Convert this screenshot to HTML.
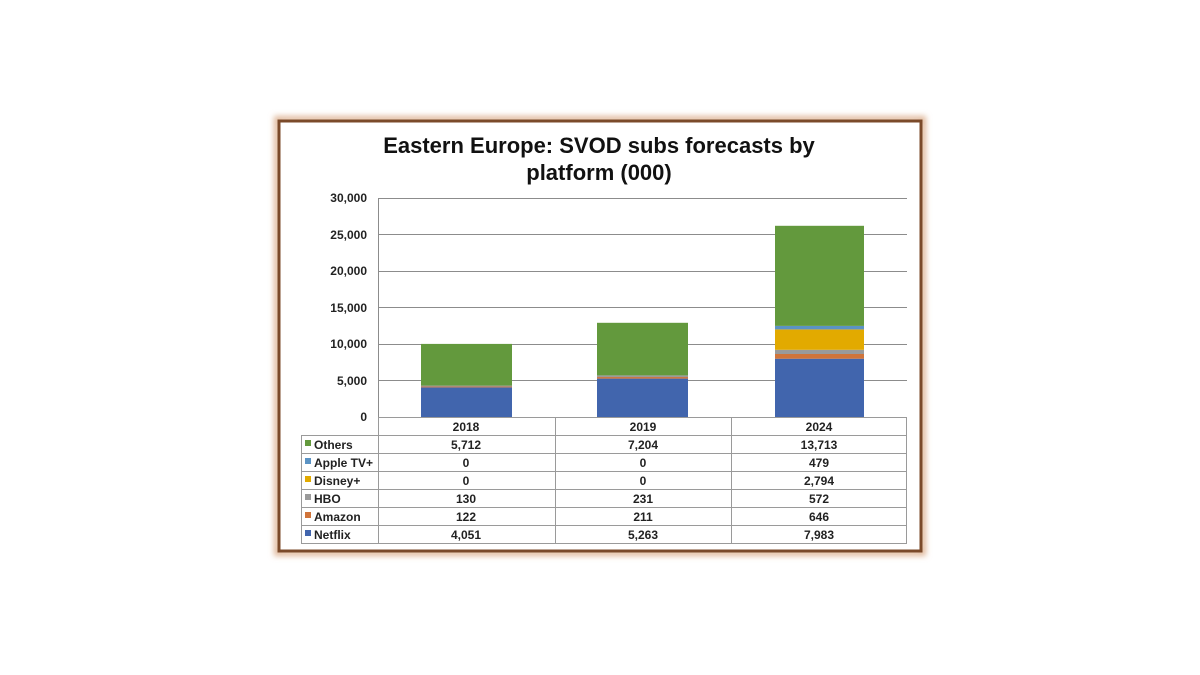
<!DOCTYPE html>
<html><head><meta charset="utf-8"><style>
html,body{margin:0;padding:0;background:#fff;width:1200px;height:675px;overflow:hidden}
svg{display:block}
text{font-family:"Liberation Sans",Arial,sans-serif}
</style></head><body>
<svg width="1200" height="675" viewBox="0 0 1200 675">
<defs><filter id="sh" x="-5%" y="-5%" width="110%" height="110%"><feGaussianBlur stdDeviation="3"/></filter></defs>
<rect x="277" y="119" width="646" height="434" fill="none" stroke="#e0b89a" stroke-width="6" filter="url(#sh)"/>
<rect x="279" y="121" width="642" height="430" fill="#fff" stroke="#7b4a2a" stroke-width="3"/>
<text x="599" y="153" font-size="22" font-weight="bold" text-anchor="middle" fill="#111">Eastern Europe: SVOD subs forecasts by</text>
<text x="599" y="180" font-size="22" font-weight="bold" text-anchor="middle" fill="#111">platform (000)</text>
<g stroke="#8c8c8c" stroke-width="1">
<line x1="378" y1="198.5" x2="907" y2="198.5"/><line x1="378" y1="234.5" x2="907" y2="234.5"/>
<line x1="378" y1="271.5" x2="907" y2="271.5"/><line x1="378" y1="307.5" x2="907" y2="307.5"/>
<line x1="378" y1="344.5" x2="907" y2="344.5"/><line x1="378" y1="380.5" x2="907" y2="380.5"/>
<line x1="378.5" y1="198" x2="378.5" y2="417"/>
</g>
<g font-size="12" font-weight="bold" fill="#222" text-anchor="end">
<text x="367" y="202">30,000</text><text x="367" y="239">25,000</text><text x="367" y="275">20,000</text>
<text x="367" y="312">15,000</text><text x="367" y="348">10,000</text><text x="367" y="385">5,000</text><text x="367" y="421">0</text>
</g>
<!-- 2018 -->
<rect x="421" y="387.4" width="91" height="29.6" fill="#4165ad"/>
<rect x="421" y="386.5" width="91" height="0.9" fill="#d0743a"/>
<rect x="421" y="385.6" width="91" height="1" fill="#9a9a9a"/>
<rect x="421" y="343.9" width="91" height="41.7" fill="#63993d"/>
<!-- 2019 -->
<rect x="597" y="378.6" width="91" height="38.4" fill="#4165ad"/>
<rect x="597" y="377.0" width="91" height="1.6" fill="#d0743a"/>
<rect x="597" y="375.4" width="91" height="1.7" fill="#9a9a9a"/>
<rect x="597" y="322.8" width="91" height="52.6" fill="#63993d"/>
<!-- 2024 -->
<rect x="775" y="358.7" width="89" height="58.3" fill="#4165ad"/>
<rect x="775" y="354.0" width="89" height="4.7" fill="#d0743a"/>
<rect x="775" y="349.8" width="89" height="4.2" fill="#9a9a9a"/>
<rect x="775" y="329.4" width="89" height="20.4" fill="#e2aa00"/>
<rect x="775" y="325.9" width="89" height="3.5" fill="#5b93c4"/>
<rect x="775" y="225.8" width="89" height="100.1" fill="#63993d"/>
<!-- table -->
<g stroke="#9a9a9a" stroke-width="1" fill="none">
<rect x="378.5" y="417.5" width="528" height="126"/>
<line x1="301.5" y1="435.5" x2="301.5" y2="543.5"/>
<line x1="301" y1="435.5" x2="907" y2="435.5"/><line x1="301" y1="453.5" x2="907" y2="453.5"/>
<line x1="301" y1="471.5" x2="907" y2="471.5"/><line x1="301" y1="489.5" x2="907" y2="489.5"/>
<line x1="301" y1="507.5" x2="907" y2="507.5"/><line x1="301" y1="525.5" x2="907" y2="525.5"/>
<line x1="301" y1="543.5" x2="907" y2="543.5"/>
<line x1="555.5" y1="417" x2="555.5" y2="543"/><line x1="731.5" y1="417" x2="731.5" y2="543"/>
</g>
<g font-size="12" font-weight="bold" fill="#222" text-anchor="middle">
<text x="466" y="431">2018</text><text x="643" y="431">2019</text><text x="819" y="431">2024</text>
<text x="466" y="449">5,712</text><text x="643" y="449">7,204</text><text x="819" y="449">13,713</text>
<text x="466" y="467">0</text><text x="643" y="467">0</text><text x="819" y="467">479</text>
<text x="466" y="485">0</text><text x="643" y="485">0</text><text x="819" y="485">2,794</text>
<text x="466" y="503">130</text><text x="643" y="503">231</text><text x="819" y="503">572</text>
<text x="466" y="521">122</text><text x="643" y="521">211</text><text x="819" y="521">646</text>
<text x="466" y="539">4,051</text><text x="643" y="539">5,263</text><text x="819" y="539">7,983</text>
</g>
<g font-size="12" font-weight="bold" fill="#222">
<rect x="305" y="440" width="6" height="6" fill="#63993d"/><text x="314" y="449">Others</text>
<rect x="305" y="458" width="6" height="6" fill="#5b93c4"/><text x="314" y="467">Apple TV+</text>
<rect x="305" y="476" width="6" height="6" fill="#e2aa00"/><text x="314" y="485">Disney+</text>
<rect x="305" y="494" width="6" height="6" fill="#9a9a9a"/><text x="314" y="503">HBO</text>
<rect x="305" y="512" width="6" height="6" fill="#d0743a"/><text x="314" y="521">Amazon</text>
<rect x="305" y="530" width="6" height="6" fill="#4165ad"/><text x="314" y="539">Netflix</text>
</g>
</svg>
</body></html>
